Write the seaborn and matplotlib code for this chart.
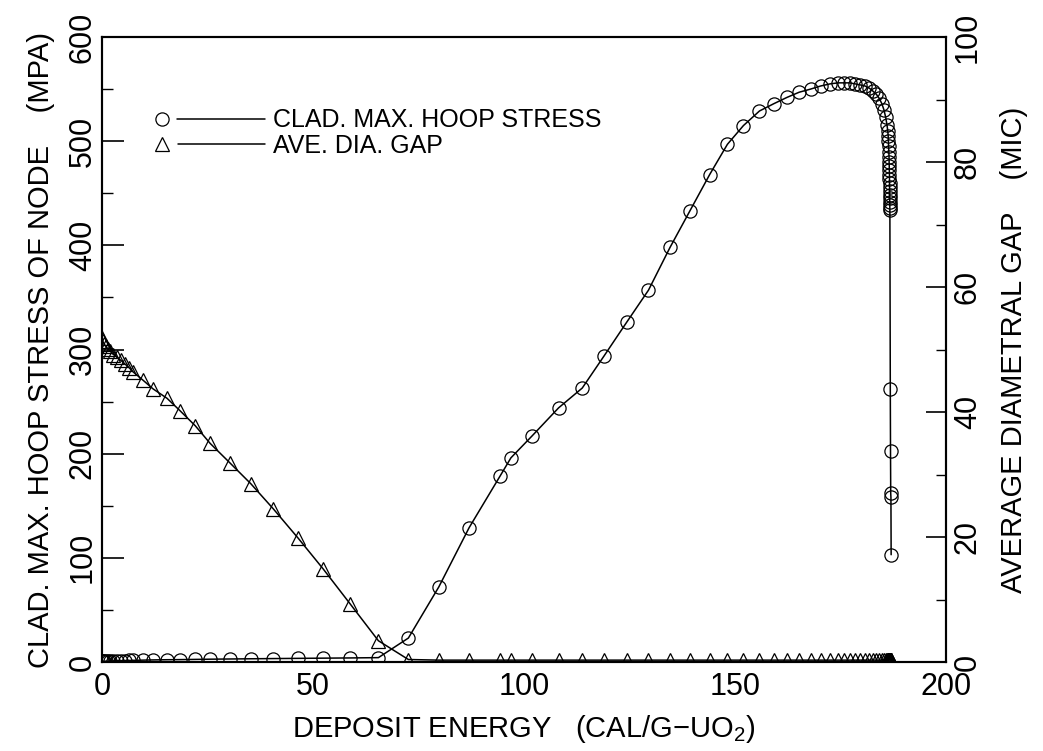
import matplotlib
matplotlib.use("Agg")
import matplotlib.pyplot as plt
from matplotlib.lines import Line2D
from matplotlib.legend_handler import HandlerBase
from matplotlib.ticker import MultipleLocator
import numpy as np
import pandas as pd
import seaborn as sns

# Deposit energy steps (cal/g-UO2), shared by both traces
energy = [
    0.0, 0.2, 0.5, 0.9, 1.4, 2.0, 2.7, 3.5, 4.4, 5.4, 6.4, 7.4, 9.7, 12.1,
    15.4, 18.5, 22.1, 25.6, 30.4, 35.3, 40.6, 46.5, 52.4, 58.8, 65.5,
    72.6, 79.8, 87.0, 94.4, 96.9, 101.9, 108.2, 113.8, 119.0, 124.3,
    129.5, 134.6, 139.3, 144.0, 148.2, 152.0, 155.8, 159.2, 162.3, 165.2,
    167.9, 170.3, 172.5, 174.4, 175.8, 177.2, 178.5, 179.7, 180.8, 181.8,
    182.7, 183.5, 184.2, 184.8, 185.3, 185.7, 186.0, 186.2, 186.3, 186.35,
    186.4, 186.45, 186.5, 186.52, 186.55, 186.57, 186.6, 186.61, 186.62,
    186.63, 186.64, 186.65, 186.66, 186.67, 186.68, 186.69, 186.7,
    186.8, 186.85, 186.9, 186.95, 187.0,
]

# Cladding maximum hoop stress of node (MPa)
hoop_stress = [
    0.5, 0.6, 0.7, 0.8, 0.9, 1.0, 1.1, 1.2, 1.3, 1.4, 1.5, 1.6, 1.8, 2.0,
    2.2, 2.3, 2.5, 2.7, 2.9, 3.1, 3.3, 3.5, 3.7, 3.9, 4.2,
    23, 72, 129, 179, 196, 217, 244, 263, 294, 326,
    357, 398, 433, 468, 497, 515, 529, 536, 542, 547,
    550, 553, 555, 556, 556, 556, 555, 554, 553, 551,
    548, 545, 541, 536, 530, 523, 516, 510, 505, 500,
    495, 490, 485, 480, 476, 472, 468, 464, 460,
    456, 452, 448, 445, 442, 439, 436, 434,
    262, 203, 162, 158, 103,
]

# Average diametral gap (micron)
diam_gap = [
    51.8, 51.3, 50.9, 50.5, 50.1, 49.7, 49.2, 48.8, 48.3, 47.7, 47.1, 46.4,
    45.1, 43.7, 42.2, 40.2, 37.8, 35.0, 31.8, 28.5, 24.5, 19.8, 14.9, 9.3, 3.4,
    0.4, 0.3, 0.3, 0.3, 0.3, 0.3, 0.3, 0.3, 0.3, 0.3,
    0.3, 0.3, 0.3, 0.3, 0.3, 0.3, 0.3, 0.3, 0.3, 0.3,
    0.3, 0.3, 0.3, 0.3, 0.3, 0.3, 0.3, 0.3, 0.3, 0.3,
    0.3, 0.3, 0.3, 0.3, 0.3, 0.3, 0.3, 0.3, 0.3, 0.3,
    0.3, 0.3, 0.3, 0.3, 0.3, 0.3, 0.3, 0.3, 0.3,
    0.3, 0.3, 0.3, 0.3, 0.3, 0.3, 0.3, 0.3,
    0.3, 0.3, 0.3, 0.3, 0.3,
]

legend_labels = ["CLAD. MAX. HOOP STRESS", "AVE. DIA. GAP"]

sns.set_style("white")
plt.rcParams["font.family"] = ["Liberation Sans", "DejaVu Sans"]
plt.rcParams["mathtext.fontset"] = "custom"
plt.rcParams["mathtext.rm"] = "Liberation Sans"
plt.rcParams["mathtext.it"] = "Liberation Sans"
plt.rcParams["text.color"] = "black"
plt.rcParams["axes.labelcolor"] = "black"
plt.rcParams["xtick.color"] = "black"
plt.rcParams["ytick.color"] = "black"
plt.rcParams["xtick.labelcolor"] = "black"
plt.rcParams["ytick.labelcolor"] = "black"
plt.rcParams["axes.linewidth"] = 1.5
plt.rcParams["axes.edgecolor"] = "black"

df = pd.DataFrame({"energy": energy, "stress": hoop_stress, "gap": diam_gap})

fig, ax = plt.subplots(figsize=(10.43, 7.51), dpi=100)
fig.subplots_adjust(left=0.0978, right=0.907, bottom=0.1185, top=0.9507)
ax2 = ax.twinx()

line_kw = dict(color="black", linewidth=1.1, markerfacecolor="none",
               markeredgecolor="black", markeredgewidth=0.9,
               estimator=None, sort=False, legend=False)
sns.lineplot(data=df, x="energy", y="stress", ax=ax, marker="o",
             markersize=9.5, **line_kw)
sns.lineplot(data=df, x="energy", y="gap", ax=ax2, marker="^",
             markersize=10.5, **line_kw)

ax.set_xlim(0, 200)
ax.set_ylim(0, 600)
ax2.set_ylim(0, 100)

ax.xaxis.set_major_locator(MultipleLocator(50))
ax.xaxis.set_minor_locator(MultipleLocator(10))
ax.yaxis.set_major_locator(MultipleLocator(100))
ax.yaxis.set_minor_locator(MultipleLocator(50))
ax2.yaxis.set_major_locator(MultipleLocator(20))
ax2.yaxis.set_minor_locator(MultipleLocator(10))

ax.tick_params(which="both", direction="in", top=False, right=False, color="black")
ax.tick_params(axis="x", which="major", length=14.4, width=1.2, pad=7, labelsize=22)
ax.tick_params(axis="x", which="minor", length=6.5, width=1.0)
ax.tick_params(axis="y", which="major", length=15.8, width=1.2, pad=3,
               labelsize=22, labelrotation=90)
ax.tick_params(axis="y", which="minor", length=8, width=1.0)
ax2.tick_params(which="both", direction="in", color="black")
ax2.tick_params(axis="y", which="major", length=14.4, width=1.2, pad=5,
                labelsize=22, labelrotation=90)
ax2.tick_params(axis="y", which="minor", length=7.2, width=1.0)
plt.setp(ax.get_yticklabels(), va="center")
plt.setp(ax2.get_yticklabels(), va="center")

for side in ["left", "right", "top", "bottom"]:
    ax.spines[side].set_linewidth(1.5)
    ax2.spines[side].set_linewidth(1.5)

ax.set_xlabel("DEPOSIT ENERGY   (CAL/G\u2212UO$_2$)", fontsize=21, labelpad=8)
ax.set_ylabel("CLAD. MAX. HOOP STRESS OF NODE    (MPA)", fontsize=21, labelpad=9)
ax2.set_ylabel("AVERAGE DIAMETRAL GAP    (MIC)", fontsize=21, labelpad=12,
               rotation=90)


class MarkerThenLine(HandlerBase):
    """Legend key drawn as the marker followed by a separate line segment."""

    def create_artists(self, legend, orig_handle, xdescent, ydescent,
                       width, height, fontsize, trans):
        y = height / 2 - ydescent
        ms = orig_handle.get_markersize()
        x0 = -xdescent
        mk = Line2D([x0 + ms / 2], [y], marker=orig_handle.get_marker(),
                    markersize=ms, markerfacecolor="none",
                    markeredgecolor="black", markeredgewidth=0.9,
                    linestyle="none")
        ln = Line2D([x0 + ms + 6, x0 + width], [y, y], color="black",
                    linewidth=1.1)
        mk.set_transform(trans)
        ln.set_transform(trans)
        return [mk, ln]


handles = [
    Line2D([], [], marker="o", markersize=9.5, color="black"),
    Line2D([], [], marker="^", markersize=10.5, color="black"),
]
ax2.legend(handles, legend_labels, handler_map={Line2D: MarkerThenLine()},
           loc="upper left", bbox_to_anchor=(0.063, 0.886), frameon=False,
           fontsize=18, handlelength=4.4, handletextpad=0.3,
           labelspacing=0.05, borderpad=0, borderaxespad=0)

fig.savefig("out.png", dpi=100)
